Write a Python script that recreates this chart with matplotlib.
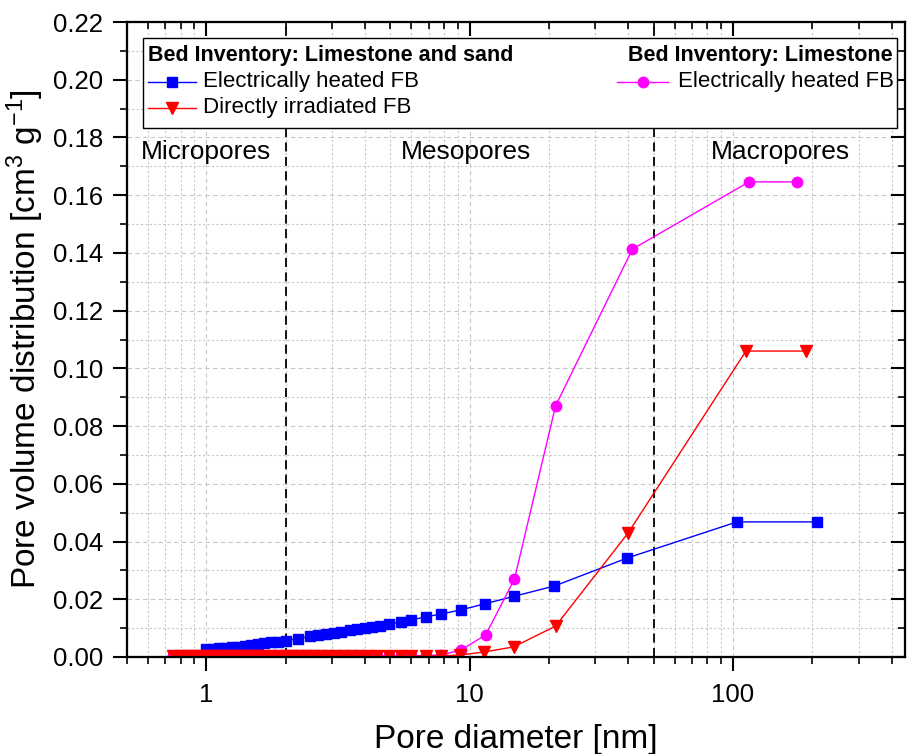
import matplotlib
matplotlib.use("Agg")
import matplotlib.pyplot as plt
from matplotlib.lines import Line2D
from matplotlib.patches import Rectangle
from matplotlib.ticker import LogLocator, MultipleLocator, NullFormatter, FixedLocator, FixedFormatter

plt.rcParams['font.family'] = ['Liberation Sans', 'DejaVu Sans']
plt.rcParams['mathtext.fontset'] = 'custom'
plt.rcParams['mathtext.rm'] = 'Liberation Sans'
plt.rcParams['mathtext.it'] = 'Liberation Sans:italic'
plt.rcParams['mathtext.bf'] = 'Liberation Sans:bold'

# ---------------- data ----------------
blue_x = [1.00, 1.06, 1.12, 1.18, 1.25, 1.32, 1.40, 1.48, 1.57, 1.66, 1.76, 1.87,
          2.00, 2.23, 2.48, 2.65, 2.85, 3.05, 3.25, 3.50, 3.75, 4.00, 4.25, 4.56,
          4.94, 5.47, 6.00, 6.80, 7.80, 9.25, 11.4, 14.7, 21.0, 39.7, 103.5, 208.0]
blue_y = [0.0026, 0.0028, 0.0030, 0.0032, 0.0034, 0.0036, 0.0039, 0.0042, 0.0045, 0.0048, 0.0051, 0.0053,
          0.0057, 0.0063, 0.0072, 0.0076, 0.0080, 0.0084, 0.0088, 0.0092, 0.0096, 0.0099, 0.0103, 0.0107,
          0.0114, 0.0121, 0.0128, 0.0139, 0.0149, 0.0163, 0.0184, 0.0210, 0.0246, 0.0343, 0.0468, 0.0468]

red_x = [0.75, 0.80, 0.85, 0.90, 0.95, 1.00, 1.06, 1.12, 1.18, 1.25, 1.32, 1.40, 1.48, 1.57,
         1.66, 1.76, 1.87, 2.00, 2.12, 2.25, 2.40, 2.55, 2.72, 2.90, 3.10, 3.32, 3.55, 3.80,
         4.10, 4.45, 4.94, 5.47, 6.00, 6.80, 7.80, 9.20, 11.3, 14.7, 21.2, 40.0, 112.0, 190.0]
red_y = [0.0002, 0.0002, 0.0002, 0.0002, 0.0002, 0.0002, 0.0002, 0.0002, 0.0002, 0.0002, 0.0002, 0.0002, 0.0002, 0.0002,
         0.0002, 0.0002, 0.0002, 0.0002, 0.0002, 0.0002, 0.0002, 0.0002, 0.0002, 0.0002, 0.0002, 0.0002, 0.0002, 0.0002,
         0.0002, 0.0002, 0.0002, 0.0003, 0.0003, 0.0003, 0.0004, 0.0007, 0.0017, 0.0035, 0.0107, 0.0430, 0.1060, 0.1060]

mag_x = [0.75, 0.80, 0.85, 0.90, 0.95, 1.00, 1.06, 1.12, 1.18, 1.25, 1.32, 1.40, 1.48, 1.57,
         1.66, 1.76, 1.87, 2.00, 2.12, 2.25, 2.40, 2.55, 2.72, 2.90, 3.10, 3.32, 3.55, 3.80,
         4.10, 4.45, 4.94, 5.47, 6.00, 6.80, 7.80, 9.25, 11.5, 14.8, 21.2, 41.5, 115.0, 175.0]
mag_y = [0.0004, 0.0004, 0.0004, 0.0004, 0.0004, 0.0004, 0.0004, 0.0004, 0.0004, 0.0004, 0.0004, 0.0004, 0.0004, 0.0004,
         0.0004, 0.0004, 0.0004, 0.0004, 0.0004, 0.0004, 0.0004, 0.0004, 0.0004, 0.0004, 0.0004, 0.0004, 0.0004, 0.0004,
         0.0004, 0.0004, 0.0004, 0.0004, 0.0004, 0.0005, 0.0007, 0.0024, 0.0076, 0.0270, 0.0870, 0.1413, 0.1646, 0.1646]

boundaries = [2, 50]
region_labels = ["Micropores", "Mesopores", "Macropores"]
region_x = [1.0, 9.7, 152.0]
region_y = 0.175

header_left = "Bed Inventory: Limestone and sand"
header_right = "Bed Inventory: Limestone"
label_blue = "Electrically heated FB"
label_red = "Directly irradiated FB"
label_mag = "Electrically heated FB"

yticks = [0.00, 0.02, 0.04, 0.06, 0.08, 0.10, 0.12, 0.14, 0.16, 0.18, 0.20, 0.22]

BLUE = '#0000FF'
RED = '#FF0000'
MAG = '#FF00FF'

# ---------------- figure ----------------
W, H = 907, 754
fig = plt.figure(figsize=(W / 100, H / 100), dpi=100)
AX_L, AX_R, AX_T, AX_B = 127, 905, 22, 657
ax = fig.add_axes([AX_L / W, 1 - AX_B / H, (AX_R - AX_L) / W, (AX_B - AX_T) / H])

ax.set_xscale('log')
ax.set_xlim(0.5, 450)
ax.set_ylim(0, 0.22)

# grid
ax.grid(True, which='major', ls=(0, (4, 3)), color='#c8c8c8', lw=0.8, zorder=0)
ax.grid(True, which='minor', ls=(0, (2, 2)), color='#c8c8c8', lw=0.8, zorder=0)
ax.set_axisbelow(True)

for b in boundaries:
    ax.axvline(b, color='black', ls=(0, (5, 3)), lw=1.3, zorder=2)

ax.plot(blue_x, blue_y, color=BLUE, lw=1.0, marker='s', ms=7, mec=BLUE, mfc=BLUE, zorder=3)
ax.plot(mag_x, mag_y, color=MAG, lw=1.0, marker='o', ms=7.5, mec=MAG, mfc=MAG, zorder=4)
ax.plot(red_x, red_y, color=RED, lw=1.0, marker='v', ms=9, mec=RED, mfc=RED, zorder=5)

for lab, xx in zip(region_labels, region_x):
    ax.text(xx, region_y, lab, ha='center', va='center', fontsize=19, zorder=6)

# ticks
ax.xaxis.set_major_locator(FixedLocator([1, 10, 100]))
ax.xaxis.set_major_formatter(FixedFormatter(['1', '10', '100']))
ax.xaxis.set_minor_locator(LogLocator(base=10, subs=[2, 3, 4, 5, 6, 7, 8, 9], numticks=20))
ax.xaxis.set_minor_formatter(NullFormatter())
ax.set_yticks(yticks)
ax.set_yticklabels([f"{v:.2f}" for v in yticks])
ax.yaxis.set_minor_locator(MultipleLocator(0.01))

ax.tick_params(axis='both', which='major', direction='out', length=10, width=1.5, labelsize=18.5, pad=7)
ax.tick_params(axis='both', which='minor', direction='out', length=5, width=1.2)
ax.tick_params(axis='x', which='major', pad=9)
ax.tick_params(axis='x', which='both', top=False)
ax.tick_params(axis='y', which='both', right=False)

for sp in ax.spines.values():
    sp.set_linewidth(1.5)

axt = ax.twiny()
axt.set_xscale('log')
axt.set_xlim(ax.get_xlim())
axt.xaxis.set_major_locator(FixedLocator([1, 10, 100]))
axt.xaxis.set_minor_locator(LogLocator(base=10, subs=[2, 3, 4, 5, 6, 7, 8, 9], numticks=20))
axt.xaxis.set_major_formatter(NullFormatter())
axt.xaxis.set_minor_formatter(NullFormatter())
axt.tick_params(axis='x', which='major', direction='in', length=10, width=1.5)
axt.tick_params(axis='x', which='minor', direction='in', length=5, width=1.2)
axr = ax.twinx()
axr.set_ylim(ax.get_ylim())
axr.set_yticks(yticks)
axr.yaxis.set_minor_locator(MultipleLocator(0.01))
axr.yaxis.set_major_formatter(NullFormatter())
axr.tick_params(axis='y', which='major', direction='in', length=10, width=1.5)
axr.tick_params(axis='y', which='minor', direction='in', length=5, width=1.2)
for a in (axt, axr):
    for sp in a.spines.values():
        sp.set_linewidth(1.5)

ax.set_xlabel("Pore diameter [nm]", fontsize=24, labelpad=12)
ax.set_ylabel("Pore volume distribution [cm$^{3}$ g$^{-1}$]", fontsize=24, labelpad=5)

# ---------------- legend (drawn on top axes) ----------------
def fx(px):
    return (px - AX_L) / (AX_R - AX_L)

def fy(py):
    return (AX_B - py) / (AX_B - AX_T)

tr = axr.transAxes
box = Rectangle((fx(143), fy(128)), fx(897) - fx(143), fy(38) - fy(128),
                transform=tr, facecolor='white', edgecolor='black', lw=1.0, zorder=10)
axr.add_patch(box)

axr.text(fx(148), fy(55), header_left, transform=tr, fontsize=15.5, fontweight='bold',
         ha='left', va='center', zorder=11)
axr.text(fx(893), fy(55), header_right, transform=tr, fontsize=15.5, fontweight='bold',
         ha='right', va='center', zorder=11)

entries = [
    (148, 196, 82, BLUE, 's', 7, 203, label_blue),
    (148, 196, 108, RED, 'v', 9, 203, label_red),
    (617, 668, 82, MAG, 'o', 7.5, 678, label_mag),
]
for x0, x1, yy, c, m, ms, tx, lab in entries:
    axr.add_line(Line2D([fx(x0), fx(x1)], [fy(yy), fy(yy)], transform=tr, color=c, lw=1.0, zorder=11))
    axr.add_line(Line2D([fx((x0 + x1) / 2)], [fy(yy)], transform=tr, color=c, marker=m, ms=ms,
                        mec=c, mfc=c, ls='none', zorder=12))
    axr.text(fx(tx), fy(yy), lab, transform=tr, fontsize=16, ha='left', va='center', zorder=11)

fig.savefig("out.png", dpi=100)
